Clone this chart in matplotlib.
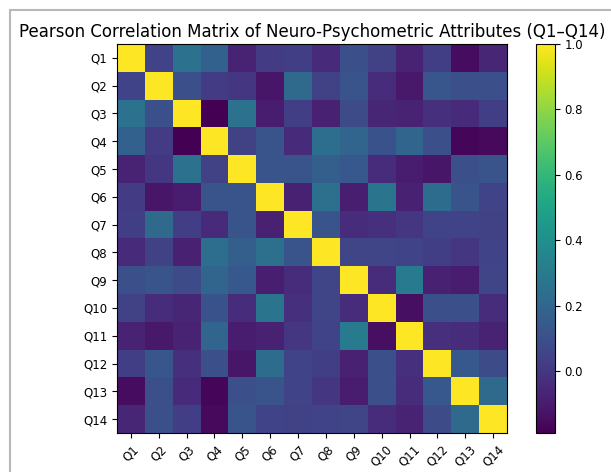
"""Correlation heatmap of the Q1-Q14 attributes."""

import matplotlib
matplotlib.use('Agg')
import matplotlib.pyplot as plt
import matplotlib.patches as patches
import numpy as np

labels = [f'Q{i}' for i in range(1, 15)]

# upper triangle of the correlation matrix, row by row (diagonal excluded)
upper = [
    [0.05, 0.26, 0.18, -0.07, 0.02, 0.03, -0.05, 0.10, 0.04, -0.07, 0.03, -0.15, -0.06],  # Q1
    [0.10, 0.02, 0.00, -0.12, 0.22, 0.04, 0.12, -0.04, -0.11, 0.13, 0.10, 0.10],           # Q2
    [-0.19, 0.26, -0.10, 0.03, -0.08, 0.08, -0.06, -0.07, -0.03, -0.05, 0.03],             # Q3
    [0.04, 0.12, -0.05, 0.24, 0.20, 0.11, 0.20, 0.10, -0.17, -0.16],                       # Q4
    [0.12, 0.12, 0.17, 0.14, -0.04, -0.10, -0.12, 0.10, 0.12],                             # Q5
    [-0.08, 0.25, -0.09, 0.27, -0.08, 0.23, 0.12, 0.05],                                   # Q6
    [0.12, -0.04, -0.03, 0.00, 0.05, 0.05, 0.04],                                          # Q7
    [0.06, 0.06, 0.05, 0.03, 0.00, 0.05],                                                  # Q8
    [-0.04, 0.30, -0.08, -0.10, 0.06],                                                     # Q9
    [-0.14, 0.10, 0.10, -0.04],                                                            # Q10
    [-0.03, -0.04, -0.07],                                                                 # Q11
    [0.14, 0.08],                                                                          # Q12
    [0.22],                                                                                # Q13
]

n = len(labels)
corr = np.eye(n)
for i, row in enumerate(upper):
    for k, v in enumerate(row):
        j = i + 1 + k
        corr[i, j] = v
        corr[j, i] = v

W, H = 611, 472
fig = plt.figure(figsize=(W / 100, H / 100), dpi=100)

ax = fig.add_axes([117 / W, 39 / H, 390 / W, 389 / H])
im = ax.imshow(corr, cmap='viridis', aspect='auto')
ax.set_xticks(range(n))
ax.set_xticklabels(labels, rotation=45, fontsize=8.5)
ax.set_yticks(range(n))
ax.set_yticklabels(labels, fontsize=8.5)
ax.set_title('Pearson Correlation Matrix of Neuro-Psychometric Attributes (Q1–Q14)',
             fontsize=12, pad=5)

cax = fig.add_axes([536 / W, 39 / H, 19 / W, 389 / H])
cb = fig.colorbar(im, cax=cax)
cb.ax.tick_params(labelsize=8.5)

# light frame like the notebook output cell
frame = patches.Rectangle((10 / W, -0.05), 1.2, 1 - 10 / H + 0.05,
                          transform=fig.transFigure, fill=False,
                          edgecolor='#b8b8b8', linewidth=1.5)
fig.patches.append(frame)

plt.savefig('out.png', dpi=100)
plt.close()
